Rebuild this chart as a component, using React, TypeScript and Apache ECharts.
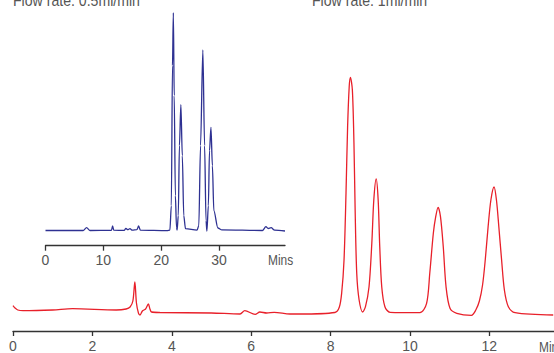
import React, { useEffect, useRef } from "react";
import * as echarts from "echarts";

// Main chromatogram (flow rate 1 ml/min): retention time (min) and detector signal
const mainTimes = [
  0, 0.05, 0.12, 0.25, 1.0, 1.5, 2.6, 2.85, 2.95, 3.02, 3.07, 3.11, 3.16, 3.2, 3.26, 3.34, 3.41, 3.45, 3.49, 3.7,
  5.0, 5.72, 5.84, 6.1, 6.22, 6.39, 6.58, 6.98, 7.23, 8.11, 8.22, 8.28, 8.34, 8.39, 8.43, 8.47, 8.5, 8.55, 8.59,
  8.62, 8.66, 8.72, 8.81, 8.88, 8.97, 9.04, 9.09, 9.15, 9.2, 9.24, 9.29, 9.37, 9.5, 10.25, 10.42, 10.5, 10.59,
  10.65, 10.71, 10.77, 10.84, 10.91, 11.01, 11.18, 11.55, 11.66, 11.75, 11.83, 11.9, 11.97, 12.04, 12.12, 12.18, 12.24,
  12.31, 12.38, 12.48, 12.65, 13.61,
];
const mainSignal = [
  25.3, 23, 21, 20.3, 21, 22.3, 21, 22, 24, 30, 49, 28, 18, 16, 20, 22, 27, 22, 19, 18.5,
  18, 17, 20.3, 16.7, 19, 18, 18.7, 17, 17, 18.5, 23.7, 37.7, 71, 138, 204, 244, 253.7, 241, 187.7,
  121, 57.7, 31, 19, 24.3, 44.3, 87.7, 131, 152, 131, 84.3, 44.3, 24.3, 18.7, 18.3, 27.7, 57.7, 97.7,
  114.3, 123.7, 114.3, 84.3, 44.3, 22.7, 17.7, 15.7, 21, 30, 46, 72, 104.3, 131, 144, 131, 104.3,
  71, 41, 24.3, 18.3, 16,
];

// Inset chromatogram (flow rate 0.5 ml/min)
const insetTimes = [
  0, 6.5, 7.1, 7.7, 11.4, 11.6, 11.8, 13.6, 13.9, 14.2, 14.6, 15.0, 15.8, 16.1, 16.4, 21.0, 21.5, 21.75, 21.95,
  22.1, 22.25, 22.45, 22.65, 22.75, 22.95, 23.15, 23.4, 23.65, 23.9, 24.2, 26.2, 26.5, 26.8, 27.2, 27.5, 27.75,
  27.9, 28.15, 28.35, 28.6, 28.85, 29.1, 29.8, 30.5, 37.5, 38.1, 38.5, 39.0, 39.6, 41.4,
];
const insetSignal = [
  15.2, 15.2, 18, 15.2, 15.4, 19.7, 15.5, 15.3, 17.4, 16, 17, 15.5, 16, 19.7, 15.5, 15, 15.5, 40, 180,
  233, 150, 50, 18, 15.5, 30, 100, 141, 90, 30, 17, 15.5, 20, 100, 195.7, 100, 25,
  14.7, 40, 95, 118.4, 80, 35, 17.7, 15.8, 15.2, 19, 17.2, 18, 15.5, 14.7,
];

const mainTicks = [0, 2, 4, 6, 8, 10, 12];
const insetTicks = [0, 10, 20, 30];
const titles = ["Flow rate: 0.5ml/min", "Flow rate: 1ml/min"];
const unitLabel = "Mins";

const FONT = '"Liberation Sans", Arial, sans-serif';

export default function App() {
  const ref = useRef<HTMLDivElement>(null);
  useEffect(() => {
    if (!ref.current) return;
    const chart = echarts.init(ref.current, null, { renderer: "svg" });
    const axisCommon = (ticks: number[], margin: number) => ({
      type: "value" as const,
      splitLine: { show: false },
      axisLine: { show: true, onZero: false, lineStyle: { color: "#333", width: 1.3 } },
      axisTick: { show: true, inside: false, length: 5, customValues: ticks, lineStyle: { color: "#333", width: 1.3 } },
      axisLabel: { show: true, customValues: ticks, margin, color: "#555", fontSize: 14, fontFamily: FONT, hideOverlap: false },
    });
    const condensed = 0.83;
    chart.setOption({
      animation: false,
      backgroundColor: "#fff",
      grid: [
        { left: 13, right: 0, top: 11, bottom: 22, containLabel: false, outerBoundsMode: "none" },
        { left: 45.5, width: 239.5, top: 5.7, bottom: 107.3, containLabel: false, outerBoundsMode: "none" },
      ],
      xAxis: [
        { ...axisCommon(mainTicks, 8), gridIndex: 0, min: 0, max: 13.63 },
        { ...axisCommon(insetTicks, 7), gridIndex: 1, min: 0, max: 41.4 },
      ],
      yAxis: [
        { type: "value", gridIndex: 0, min: 0, max: 320, show: false, splitLine: { show: false } },
        { type: "value", gridIndex: 1, min: 0, max: 240, show: false, splitLine: { show: false } },
      ],
      series: [
        {
          type: "line",
          xAxisIndex: 0,
          yAxisIndex: 0,
          data: mainTimes.map((t, i) => [t, mainSignal[i]]),
          showSymbol: false,
          smooth: 0.3,
          lineStyle: { color: "#e8202a", width: 1.3 },
          silent: true,
        },
        {
          type: "line",
          xAxisIndex: 1,
          yAxisIndex: 1,
          data: insetTimes.map((t, i) => [t, insetSignal[i]]),
          showSymbol: false,
          smooth: 0.3,
          smoothMonotone: "x",
          lineStyle: { color: "#2e3192", width: 1.3 },
          silent: true,
        },
      ],
      graphic: [
        { type: "text", x: 13, y: -8, scaleX: condensed, style: { text: titles[0], fontSize: 17, fontFamily: FONT, fill: "#555" } },
        { type: "text", x: 312, y: -8, scaleX: condensed, style: { text: titles[1], fontSize: 17, fontFamily: FONT, fill: "#555" } },
        { type: "text", x: 268, y: 253, scaleX: 0.85, style: { text: unitLabel, fontSize: 14, fontFamily: FONT, fill: "#555" } },
        { type: "text", x: 539, y: 340, scaleX: 0.85, style: { text: unitLabel, fontSize: 14, fontFamily: FONT, fill: "#555" } },
      ],
    });
    return () => chart.dispose();
  }, []);
  return <div ref={ref} style={{ position: "fixed", left: 0, top: 0, width: 554, height: 353 }} />;
}
